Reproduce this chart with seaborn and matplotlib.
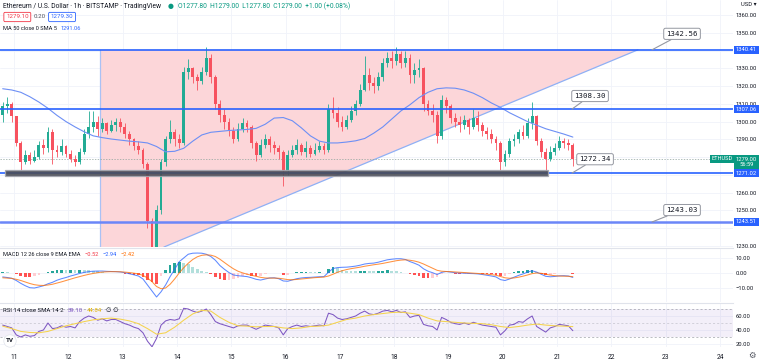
import numpy as np
import pandas as pd
import matplotlib
matplotlib.use("Agg")
import matplotlib.pyplot as plt
import matplotlib.transforms as mtransforms
from matplotlib.patches import Polygon, Rectangle
import seaborn as sns

sns.set_theme(style="white")
plt.rcParams['font.family'] = ['Roboto', 'DejaVu Sans']

# ---------------- data (ETH/USD, 2h candles) ----------------
first_candle_day = 10.75          # Nov 10, 18:00
candle_days = 1 / 12              # 2 hours
first_open = 1304.0
closes = [1309, 1310, 1303, 1288, 1277, 1281, 1278, 1280, 1287, 1285,
          1294, 1284, 1283, 1286, 1282, 1279, 1277, 1283, 1293, 1297,
          1300, 1296, 1299, 1295, 1298, 1300, 1297, 1293, 1290, 1286,
          1284, 1276, 1244, 1215, 1250, 1277, 1290, 1294, 1290, 1288,
          1328, 1330, 1325, 1323, 1328, 1336, 1325, 1310, 1304, 1300,
          1295, 1290, 1296, 1299, 1297, 1288, 1281, 1287, 1290, 1287,
          1285, 1283, 1272, 1281, 1284, 1287, 1283, 1285, 1282, 1284,
          1286, 1284, 1307, 1305, 1300, 1297, 1301, 1306, 1310, 1318,
          1326, 1322, 1320, 1325, 1333, 1336, 1334, 1338, 1333, 1336,
          1326, 1329, 1330, 1310, 1306, 1304, 1292, 1312, 1309, 1302,
          1300, 1298, 1301, 1297, 1302, 1298, 1295, 1293, 1290, 1288,
          1277, 1282, 1289, 1290, 1294, 1292, 1299, 1303, 1289, 1283,
          1279, 1283, 1285, 1289, 1288, 1287, 1279]
highs = [1311, 1314, 1311, 1303, 1289, 1284, 1283, 1284, 1289, 1290,
         1297, 1296, 1287, 1290, 1287, 1284, 1281, 1285, 1296, 1306,
         1306, 1303, 1302, 1300, 1301, 1302, 1302, 1299, 1295, 1291,
         1289, 1285, 1277, 1246, 1253, 1279, 1292, 1301, 1296, 1293,
         1331, 1335, 1331, 1327, 1331, 1342, 1338, 1326, 1312, 1307,
         1302, 1297, 1299, 1302, 1301, 1298, 1289, 1290, 1293, 1292,
         1289, 1287, 1284, 1284, 1287, 1290, 1288, 1289, 1287, 1288,
         1289, 1288, 1310, 1314, 1308, 1303, 1304, 1309, 1312, 1321,
         1337, 1330, 1325, 1328, 1336, 1339, 1340, 1342, 1340, 1340,
         1338, 1333, 1335, 1331, 1312, 1310, 1306, 1315, 1314, 1310,
         1305, 1303, 1304, 1302, 1307, 1306, 1300, 1297, 1296, 1292,
         1289, 1284, 1291, 1293, 1296, 1298, 1302, 1311, 1304, 1291,
         1285, 1286, 1288, 1292, 1291, 1290, 1288]
lows = [1300, 1305, 1300, 1286, 1273, 1276, 1276, 1277, 1279, 1282,
        1283, 1276, 1280, 1281, 1280, 1277, 1275, 1276, 1282, 1291,
        1294, 1292, 1294, 1293, 1294, 1295, 1294, 1291, 1287, 1284,
        1282, 1274, 1240, 1190, 1200, 1248, 1275, 1288, 1286, 1285,
        1287, 1324, 1322, 1318, 1321, 1326, 1322, 1307, 1300, 1296,
        1292, 1288, 1289, 1294, 1294, 1285, 1278, 1280, 1285, 1283,
        1282, 1279, 1264, 1270, 1280, 1282, 1281, 1280, 1280, 1281,
        1283, 1282, 1283, 1302, 1297, 1295, 1296, 1300, 1304, 1309,
        1317, 1318, 1316, 1318, 1323, 1331, 1330, 1332, 1330, 1331,
        1322, 1322, 1325, 1306, 1304, 1300, 1288, 1290, 1305, 1299,
        1297, 1294, 1296, 1293, 1296, 1295, 1292, 1290, 1288, 1284,
        1273, 1275, 1280, 1286, 1288, 1290, 1291, 1296, 1287, 1280,
        1272, 1278, 1281, 1284, 1285, 1284, 1275]
# MA 50 (sampled every second candle)
ma50 = [1318.5, 1317.8, 1316.5, 1314, 1311, 1307.5, 1303.5, 1300, 1297, 1294.3,
        1292, 1291, 1290.2, 1289.6, 1289, 1288.6, 1288, 1286, 1283, 1283.3,
        1285, 1289, 1292.5, 1294, 1294.5, 1295, 1295.3, 1295.6, 1296.2, 1298.5,
        1302, 1302.3, 1300.5, 1296.5, 1292, 1289, 1288, 1288, 1288.5, 1289.2,
        1290.5, 1293.5, 1297, 1301.5, 1306, 1309.5, 1313.5, 1316.5, 1318.5, 1319,
        1318.8, 1317.8, 1316, 1313.5, 1310.5, 1308, 1305, 1302.5, 1300, 1298,
        1296, 1294.5, 1293, 1291.3]
macd_line = [-2.6, -3.0, -3.5, -5.0, -6.9, -8.5, -9.8, -10.0, -9.3, -8.5,
             -7.2, -6.2, -4.8, -3.8, -3.0, -2.0, -1.2, -0.3, 0.4, 0.9,
             1.2, 1.3, 1.3, 1.1, 1.0, 0.9, 0.7, 0.2, -0.5, -1.2,
             -2.0, -4.0, -8.0, -12.0, -16.0, -12.5, -8.0, -2.4, 2.5, 7.5,
             10.0, 12.5, 13.2, 13.3, 13.2, 12.5, 11.0, 8.5, 5.0, 2.5,
             0.3, -1.3, -1.8, -2.1, -2.4, -3.2, -4.2, -4.7, -4.0, -3.3,
             -3.2, -3.8, -5.3, -5.5, -4.6, -3.8, -3.3, -3.0, -2.9, -2.7,
             -2.5, -2.4, 0.5, 3.0, 3.6, 3.8, 3.9, 4.2, 4.6, 5.2,
             6.0, 6.4, 6.6, 7.2, 8.0, 8.8, 9.2, 9.5, 9.5, 9.0,
             7.6, 6.5, 5.2, 2.8, 1.2, 0.2, -1.0, 0.4, 1.0, 0.6,
             0.2, 0.0, -0.1, -0.3, -0.4, -0.6, -1.0, -1.5, -2.0, -2.6,
             -4.4, -5.0, -4.0, -2.8, -1.6, -0.6, 0.6, 1.5, 0.6, -0.8,
             -2.2, -2.5, -2.3, -1.9, -1.8, -2.0, -2.94]
macd_signal = [-3.2, -3.4, -3.6, -4.2, -5.0, -6.0, -7.0, -7.8, -8.2, -8.3,
               -8.0, -7.5, -6.7, -5.9, -5.0, -4.1, -3.2, -2.4, -1.6, -0.9,
               -0.3, 0.2, 0.6, 0.8, 0.9, 0.9, 0.8, 0.6, 0.3, -0.1,
               -0.6, -1.6, -3.3, -5.8, -9.0, -10.5, -10.0, -7.5, -4.0, 0.0,
               3.5, 6.5, 9.0, 10.8, 11.8, 12.1, 11.9, 11.0, 9.2, 7.0,
               4.8, 2.8, 1.2, 0.1, -0.8, -1.5, -2.2, -2.9, -3.3, -3.4,
               -3.4, -3.5, -3.9, -4.4, -4.5, -4.3, -4.0, -3.7, -3.4, -3.1,
               -2.9, -2.7, -2.0, -0.8, 0.5, 1.5, 2.3, 2.9, 3.4, 3.9,
               4.5, 5.0, 5.5, 5.9, 6.4, 7.0, 7.6, 8.2, 8.6, 8.8,
               8.5, 8.0, 7.2, 6.0, 4.6, 3.2, 1.8, 1.2, 1.0, 0.9,
               0.7, 0.5, 0.3, 0.1, -0.1, -0.3, -0.5, -0.8, -1.1, -1.5,
               -2.3, -3.2, -3.5, -3.3, -2.8, -2.1, -1.3, -0.4, 0.0, -0.2,
               -0.8, -1.4, -1.8, -2.0, -2.1, -2.2, -2.42]
rsi = [47, 45, 43, 33, 30, 33, 31, 32, 38, 40,
       50, 42, 43, 46, 44, 45, 43, 52, 57, 60,
       58, 54, 56, 53, 55, 55, 52, 49, 47, 44,
       42, 36, 24, 16, 28, 47, 53, 55, 54, 56,
       71, 70, 67, 65, 67, 70, 62, 52, 49, 47,
       45, 43, 46, 47, 47, 44, 41, 44, 47, 46,
       45, 43, 33, 42, 45, 47, 45, 46, 45, 46,
       47, 46, 64, 62, 57, 55, 56, 58, 60, 64,
       67, 63, 62, 64, 67, 68, 66, 68, 65, 66,
       58, 60, 61, 48, 46, 45, 40, 58, 55, 51,
       49, 48, 50, 48, 51, 49, 47, 46, 45, 44,
       33, 39, 47, 48, 52, 51, 56, 60, 45, 41,
       37, 43, 45, 48, 47, 46, 39]
# RSI SMA (sampled every second candle)
rsi_sma = [45.5, 42, 38, 36.5, 36, 38, 42, 46, 49, 52,
           54.5, 56, 57, 55.5, 53, 49, 42, 34, 36, 44,
           54, 63, 68, 67, 58, 51, 46, 45.5, 44.5, 45,
           45, 43, 42, 43, 45, 45.5, 47, 51, 55, 57,
           60, 62, 63.5, 65, 65.5, 64, 62, 57, 53, 52,
           51, 50, 49.5, 49, 47.5, 45, 43.5, 45, 47, 48.5,
           47, 46, 45.5, 44.84]

day_ticks = list(range(11, 25))
price_ticks = list(range(1230, 1361, 10))
price_hidden = [1240, 1270, 1280, 1340]      # covered by coloured labels
macd_ticks = [-10, 0, 10]
rsi_ticks = [20, 40, 60]

# drawings on the chart
levels = [1340.41, 1307.06, 1271.02, 1243.51]
callout_texts = ["1342.56", "1308.30", "1272.34", "1243.03"]
callout_days = [22.75, 21.276, 21.276, 22.75]
pattern_left_day = 12.584
pattern_top = 1340.41
diag_days = [13.76, 22.49]
diag_prices = [1229.4, 1340.41]
band_days = [10.834, 20.834]
band_prices = [1269.4, 1272.8]

# ---------------- figure ----------------
W, H = 760, 363
fig = plt.figure(figsize=(W / 100, H / 100), dpi=100)
fig.patch.set_facecolor('white')


def fx(x):
    return x / W


def fy(y):
    return 1 - y / H


AX_R = 733
ax = fig.add_axes([0, fy(247), fx(AX_R), 247 / H])
axm = fig.add_axes([0, fy(302), fx(AX_R), 54 / H], sharex=ax)
axr = fig.add_axes([0, fy(347), fx(AX_R), 44 / H], sharex=ax)

n = len(closes)
t = first_candle_day + (np.arange(n) + 0.5) * candle_days
opens = [first_open] + closes[:-1]
df = pd.DataFrame({'t': t, 'open': opens, 'high': highs, 'low': lows, 'close': closes})
df['high'] = df[['high', 'open', 'close']].max(axis=1)
df['low'] = df[['low', 'open', 'close']].min(axis=1)
UP, DN = '#22ab94', '#f7525f'
up = df['close'] >= df['open']
ccol = np.where(up, UP, DN)

GRID = '#f0f3fa'
for a in (ax, axm, axr):
    a.set_facecolor('white')
    for s in a.spines.values():
        s.set_visible(False)
    a.set_xticks(day_ticks)
    a.grid(True, color=GRID, lw=0.6, zorder=0)
    a.yaxis.tick_right()
    a.tick_params(axis='y', length=0, pad=2, labelsize=4.2, labelcolor='#131722')
    a.tick_params(axis='x', length=0)
for a in (ax, axm):
    a.tick_params(labelbottom=False)

# pattern fill (pink) with its edges
poly = Polygon([(pattern_left_day, pattern_top), (diag_days[1], diag_prices[1]),
                (diag_days[0], diag_prices[0]), (pattern_left_day, diag_prices[0])],
               closed=True, fc='#fcd6d9', ec='none', zorder=1)
ax.add_patch(poly)
ax.plot(diag_days, diag_prices, color='#8fb0f5', lw=0.9, zorder=2)
ax.plot([pattern_left_day, pattern_left_day], [diag_prices[0], pattern_top], color='#a9c1f5', lw=0.9, zorder=2)

# candles
ax.vlines(df['t'], df['low'], df['high'], colors=ccol, lw=0.6, zorder=3)
body = (df['close'] - df['open']).abs().clip(lower=0.5)
ax.bar(df['t'], body, bottom=np.minimum(df['open'], df['close']), width=candle_days * 0.62,
       color=ccol, lw=0, zorder=4)

# MA 50
sns.lineplot(x=t[::2], y=ma50, ax=ax, color='#6d8ff5', lw=0.8, zorder=5, legend=False)

# last price dashed line
ax.axhline(closes[-1], color='#8fa39d', lw=0.5, ls=(0, (2, 2)), zorder=2)

# horizontal levels
for lv in levels[:3]:
    ax.axhline(lv, color='#2962ff', lw=1.2, zorder=6)
ax.axhline(levels[3], color='#6b86f8', lw=1.8, zorder=6)

# support band
ax.add_patch(Rectangle((band_days[0], band_prices[0]), band_days[1] - band_days[0],
                       band_prices[1] - band_prices[0], fc='#4a4d57', ec='#a3a6af', lw=0.9,
                       alpha=0.9, zorder=7))

ax.set_xlim(10.742, 24.241)
ax.set_ylim(1229.44, 1368.44)
ax.set_yticks(price_ticks)
ax.set_yticklabels(["" if v in price_hidden else f"{v:.2f}" for v in price_ticks])

# callouts
offsets = [(21.6, 11.5), (13.0, 9.4), (16.6, 10.0), (21.6, 8.6)]
for txt, dd, lv, off in zip(callout_texts, callout_days, levels, offsets):
    ax.annotate(txt, xy=(dd, lv), xytext=off, textcoords='offset points',
                fontsize=5.3, family='DejaVu Sans Mono', color='#131722',
                ha='center', va='center', zorder=12, annotation_clip=False,
                bbox=dict(boxstyle='round,pad=0.35,rounding_size=0.25', fc='white', ec='#9598a1', lw=0.7),
                arrowprops=dict(arrowstyle='-', color='#9598a1', lw=0.8, shrinkA=0, shrinkB=0))

# right price-scale labels
trans = mtransforms.blended_transform_factory(fig.transFigure, ax.transData)
for lv in levels:
    ax.text(fx(746.5), lv, f"{lv:.2f}", transform=trans, ha='center', va='center', fontsize=4.2,
            color='white', zorder=20, clip_on=False,
            bbox=dict(boxstyle='square,pad=0.3', fc='#2962ff', ec='none'))
ax.annotate(f"{closes[-1]:.2f}\n56:59", xy=(fx(746.5), closes[-1]), xycoords=trans,
            xytext=(0, -2.4), textcoords='offset points', ha='center', va='center',
            fontsize=4.2, color='white', linespacing=1.1, zorder=20, annotation_clip=False,
            bbox=dict(boxstyle='square,pad=0.3', fc='#089981', ec='none'))
ax.text(fx(722), closes[-1], "ETHUSD", transform=trans, ha='center', va='center', fontsize=4.1,
        color='white', zorder=20, clip_on=False,
        bbox=dict(boxstyle='square,pad=0.3', fc='#089981', ec='none'))

# MACD pane
macd_a = np.array(macd_line)
sig_a = np.array(macd_signal)
hist = macd_a - sig_a
prev = np.r_[hist[0], hist[:-1]]
hcol = np.where(hist >= 0, np.where(hist >= prev, '#26a69a', '#b2dfdb'),
                np.where(hist < prev, '#ff5252', '#ffcdd2'))
axm.bar(t, hist, width=candle_days * 0.6, color=hcol, lw=0, zorder=2)
sns.lineplot(x=t, y=macd_a, ax=axm, color='#2962ff', lw=0.75, alpha=0.75, zorder=3, legend=False)
sns.lineplot(x=t, y=sig_a, ax=axm, color='#ff6d00', lw=0.75, alpha=0.75, zorder=3, legend=False)
axm.set_ylim(-19.33, 16.67)
axm.set_yticks(macd_ticks)
axm.set_yticklabels([f"{v:.2f}".replace('-', '\u2212') for v in macd_ticks])
axm.spines['top'].set_visible(True)
axm.spines['top'].set_color('#e0e3eb')
axm.spines['top'].set_linewidth(0.8)

# RSI pane
axr.axhspan(30, 70, color='#7e57c2', alpha=0.09, lw=0, zorder=1)
for lv, al in ((70, 0.9), (50, 0.5), (30, 0.9)):
    axr.axhline(lv, color='#9598a1', lw=0.5, ls=(0, (3, 3)), alpha=al, zorder=2)
sns.lineplot(x=t, y=rsi, ax=axr, color='#7e57c2', lw=0.75, zorder=3, legend=False)
sns.lineplot(x=t[::2], y=rsi_sma, ax=axr, color='#f5d34c', lw=0.75, zorder=3, legend=False)
axr.set_ylim(15.71, 78.57)
axr.set_yticks(rsi_ticks)
axr.set_yticklabels([f"{v:.2f}" for v in rsi_ticks])
axr.spines['top'].set_visible(True)
axr.spines['top'].set_color('#e0e3eb')
axr.spines['top'].set_linewidth(0.8)
axr.set_xticks(day_ticks)
axr.set_xticklabels([str(d) for d in day_ticks])
axr.tick_params(axis='x', labelsize=4.8, labelcolor='#131722', pad=5)
for a in (ax, axm, axr):
    a.set_xlabel('')
    a.set_ylabel('')

# header texts, chained left to right so they never overlap
TXT = '#131722'


def chain(host, x, y, parts, fs):
    first = parts[0]
    prev = host.text(fx(x), fy(y), first[0], transform=fig.transFigure, fontsize=fs,
                     color=first[1], va='center', zorder=30, clip_on=False, **first[3])
    for txt, col, gap, kw in parts[1:]:
        prev = host.annotate(txt, xy=(1, 0.5), xycoords=prev, xytext=(gap * 0.72, 0),
                             textcoords='offset points', fontsize=fs, color=col, va='center',
                             ha='left', annotation_clip=False, zorder=30, **kw)
    return prev


chain(ax, 3, 6, [("Ethereum / U.S. Dollar · 1h · BITSTAMP · TradingView", TXT, 0, {}),
                 ("●", '#089981', 6, {'family': 'DejaVu Sans'}),
                 ("O1277.80  H1279.00  L1277.80  C1279.00  +1.00 (+0.08%)", '#089981', 5, {})], 4.9)
box_r = dict(boxstyle='round,pad=0.35,rounding_size=0.2', fc='white', ec='#f23645', lw=0.6)
box_b = dict(boxstyle='round,pad=0.35,rounding_size=0.2', fc='white', ec='#2962ff', lw=0.6)
chain(ax, 6, 17, [("1279.10", '#f23645', 0, {'bbox': box_r}),
                  ("0.20", '#50535e', 5, {}),
                  ("1279.30", '#2962ff', 5, {'bbox': box_b})], 4.4)
chain(ax, 3, 29, [("MA 50 close 0 SMA 5", TXT, 0, {}),
                  ("1291.06", '#2962ff', 4, {})], 4.1)
fig.text(fx(741), fy(4), "USD \u25be", fontsize=4.2, color=TXT, va='center')

chain(axm, 3, 255, [("MACD 12 26 close 9 EMA EMA", TXT, 0, {}),
                    ("\u22120.52", '#f23645', 4, {}),
                    ("\u22122.94", '#2962ff', 4, {}),
                    ("\u22122.42", '#ff6d00', 4, {})], 4.1)
chain(axr, 3, 310, [("RSI 14 close SMA 14 2", TXT, 0, {}),
                    ("39.10", '#7e57c2', 4, {}),
                    ("44.84", '#e0b400', 4, {}),
                    ("\u2205 \u2205", TXT, 4, {'family': 'DejaVu Sans'})], 4.3)

fig.text(fx(10), fy(341), "TV", fontsize=4.5, fontweight='bold', color=TXT, va='center', ha='center',
         bbox=dict(boxstyle='circle,pad=0.35', fc='white', ec='#e0e3eb', lw=0.5))
fig.text(fx(752), fy(355), "\u2699", fontsize=6, color='#50535e', va='center', ha='center', family='DejaVu Sans')

fig.savefig('out.png', dpi=100, facecolor='white')
